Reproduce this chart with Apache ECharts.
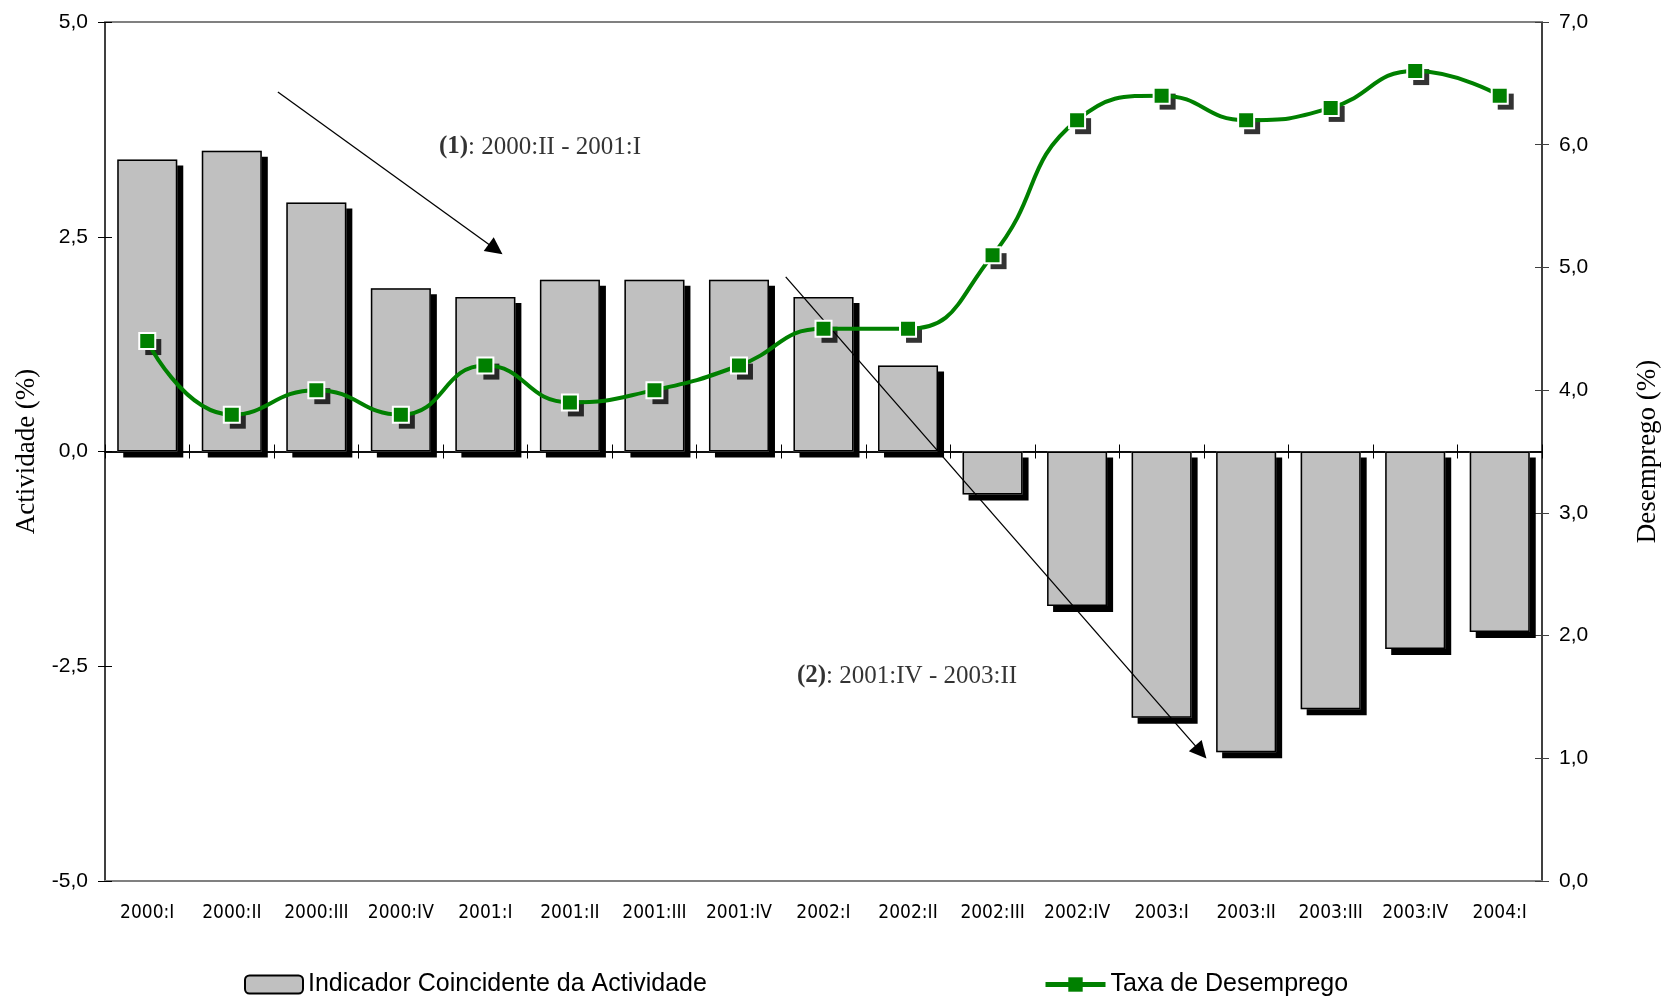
<!DOCTYPE html>
<html>
<head>
<meta charset="utf-8">
<script src="https://cdn.jsdelivr.net/npm/echarts@6/dist/echarts.min.js"></script>
<style>
html,body{margin:0;padding:0;background:#fff;}
#chart{width:1661px;height:996px;}
</style>
</head>
<body>
<div id="chart"></div>
<script>
// ---- data ----
const categories = ['2000:I','2000:II','2000:III','2000:IV','2001:I','2001:II','2001:III','2001:IV','2002:I','2002:II','2002:III','2002:IV','2003:I','2003:II','2003:III','2003:IV','2004:I'];
const activity = [3.4, 3.5, 2.9, 1.9, 1.8, 2.0, 2.0, 2.0, 1.8, 1.0, -0.5, -1.8, -3.1, -3.5, -3.0, -2.3, -2.1];
const unemployment = [4.4, 3.8, 4.0, 3.8, 4.2, 3.9, 4.0, 4.2, 4.5, 4.5, 5.1, 6.2, 6.4, 6.2, 6.3, 6.6, 6.4];
const seriesNames = ['Indicador Coincidente da Actividade', 'Taxa de Desemprego'];
const axisNames = ['Actividade (%)', 'Desemprego (%)'];
const leftTicks = {min: -5, max: 5, interval: 2.5};
const rightTicks = {min: 0, max: 7, interval: 1};
// annotations (category-index, left-axis value)
const annoTags = ['(1)', '(2)'];
const annoRanges = [': 2000:II - 2001:I', ': 2001:IV - 2003:II'];
const annoTextAt = [[4.646, 3.545], [8.988, -2.613]];
const arrowFrom = [[1.545, 4.186], [7.553, 2.033]];
const arrowTo = [[4.121, 2.355], [12.464, -3.499]];

// ---- chart ----
const SANS = "'Liberation Sans', Arial, sans-serif";
const NARROW = "'Liberation Sans Narrow', 'Arial Narrow', 'DejaVu Sans Condensed', sans-serif";
const SERIF = "'Liberation Serif', 'Times New Roman', serif";
const fmt = v => v.toFixed(1).replace('.', ',');

const chart = echarts.init(document.getElementById('chart'));

const catBase = {type: 'category', data: categories, boundaryGap: true, splitLine: {show: false}};
const noShadow = {shadowBlur: 0, shadowOffsetX: 0, shadowOffsetY: 0, shadowColor: 'rgba(0,0,0,0)'};

chart.setOption({
  animation: false,
  backgroundColor: '#fff',
  grid: {left: 105, right: 119, top: 22, bottom: 115, containLabel: false, outerBoundsMode: 'none'},
  legend: [
    {
      data: [seriesNames[0]], left: 244, top: 972, padding: 0,
      itemWidth: 58, itemHeight: 18,
      itemStyle: Object.assign({color: '#c0c0c0', borderColor: '#000', borderWidth: 2}, noShadow),
      textStyle: {fontFamily: SANS, fontSize: 25, color: '#000'}
    },
    {
      data: [seriesNames[1]], left: 1043, top: 972, padding: 0,
      itemWidth: 60, itemHeight: 18,
      itemStyle: Object.assign({color: '#008000', borderWidth: 0}, noShadow),
      lineStyle: {color: '#008000', width: 5},
      textStyle: {fontFamily: SANS, fontSize: 25, color: '#000'}
    }
  ],
  xAxis: [
    Object.assign({}, catBase, {
      position: 'bottom',
      axisLine: {onZero: false, lineStyle: {color: '#808080', width: 2}},
      axisTick: {show: false},
      axisLabel: {margin: 23, fontFamily: NARROW, fontSize: 19, color: '#000', interval: 0}
    }),
    Object.assign({}, catBase, {
      position: 'top',
      axisLine: {onZero: false, lineStyle: {color: '#808080', width: 2}},
      axisTick: {show: false},
      axisLabel: {show: false}
    }),
    Object.assign({}, catBase, {
      position: 'bottom',
      axisLine: {onZero: true, onZeroAxisIndex: 0, lineStyle: {color: '#000', width: 1.5}},
      axisTick: {show: true, length: 7, interval: 0, lineStyle: {color: '#000', width: 1}},
      axisLabel: {show: false}
    }),
    Object.assign({}, catBase, {
      position: 'top',
      axisLine: {onZero: true, onZeroAxisIndex: 0, lineStyle: {color: '#000', width: 1.5}},
      axisTick: {show: true, length: 7, interval: 0, lineStyle: {color: '#000', width: 1}},
      axisLabel: {show: false}
    }),
    {type: 'value', min: -0.5, max: categories.length - 0.5, show: false}
  ],
  yAxis: [
    {
      type: 'value', position: 'left', min: leftTicks.min, max: leftTicks.max, interval: leftTicks.interval,
      axisLine: {show: true, onZero: false, lineStyle: {color: '#000', width: 1.5}},
      axisTick: {show: true, length: 7, lineStyle: {color: '#000', width: 1}},
      axisLabel: {margin: 17, fontFamily: SANS, fontSize: 21, color: '#000', formatter: fmt},
      splitLine: {show: false},
      name: axisNames[0], nameLocation: 'middle', nameGap: 65, nameRotate: 90,
      nameTextStyle: {fontFamily: SERIF, fontSize: 27, color: '#000'}
    },
    {
      type: 'value', position: 'right', min: rightTicks.min, max: rightTicks.max, interval: rightTicks.interval,
      axisLine: {show: true, onZero: false, lineStyle: {color: '#404040', width: 2}},
      axisTick: {show: true, length: 7, lineStyle: {color: '#404040', width: 1}},
      axisLabel: {margin: 17, fontFamily: SANS, fontSize: 21, color: '#000', formatter: fmt},
      splitLine: {show: false},
      name: axisNames[1], nameLocation: 'middle', nameGap: 92, nameRotate: 90,
      nameTextStyle: {fontFamily: SERIF, fontSize: 27, color: '#000'}
    },
    {
      type: 'value', position: 'left', min: leftTicks.min, max: leftTicks.max, interval: leftTicks.interval,
      axisLine: {show: false, onZero: false},
      axisTick: {show: true, inside: true, length: 7, lineStyle: {color: '#000', width: 1}},
      axisLabel: {show: false}, splitLine: {show: false}
    },
    {
      type: 'value', position: 'right', min: rightTicks.min, max: rightTicks.max, interval: rightTicks.interval,
      axisLine: {show: false, onZero: false},
      axisTick: {show: true, inside: true, length: 7, lineStyle: {color: '#404040', width: 1}},
      axisLabel: {show: false}, splitLine: {show: false}
    }
  ],
  series: [
    {
      // bar fill + drop shadow
      name: seriesNames[0], type: 'bar', xAxisIndex: 0, yAxisIndex: 0,
      data: activity, barWidth: '71%', z: 3,
      itemStyle: {color: '#c0c0c0', borderWidth: 0,
        shadowColor: '#000', shadowBlur: 0, shadowOffsetX: 6, shadowOffsetY: 6}
    },
    {
      // bar outline
      name: 'outline', type: 'bar', xAxisIndex: 0, yAxisIndex: 0,
      data: activity, barWidth: '71%', barGap: '-100%', z: 3, silent: true,
      itemStyle: {color: 'rgba(0,0,0,0)', borderColor: '#000', borderWidth: 1.5}
    },
    {
      name: 'annotations', type: 'scatter', xAxisIndex: 4, yAxisIndex: 0, z: 4,
      symbolSize: 0, silent: true,
      data: annoTextAt.map(p => ({value: p})),
      label: {
        show: true, position: 'inside', align: 'center', verticalAlign: 'middle',
        formatter: p => '{b|' + annoTags[p.dataIndex] + '}{n|' + annoRanges[p.dataIndex] + '}',
        rich: {
          b: {fontFamily: SERIF, fontSize: 25, fontWeight: 'bold', color: '#000'},
          n: {fontFamily: SERIF, fontSize: 25, color: '#000'}
        }
      },
      markLine: {
        silent: true, symbol: ['none', 'triangle'], symbolSize: 17,
        lineStyle: {color: '#000', width: 1.3, type: 'solid'},
        label: {show: false},
        emphasis: {disabled: true},
        data: arrowFrom.map((s, i) => [{coord: s}, {coord: arrowTo[i]}])
      }
    },
    {
      // marker drop shadows
      name: 'markerShadow', type: 'scatter', xAxisIndex: 0, yAxisIndex: 1,
      data: unemployment, z: 5, silent: true,
      symbol: 'rect', symbolSize: 16, symbolOffset: [6, 6],
      itemStyle: {color: '#000'}
    },
    {
      name: seriesNames[1], type: 'line', xAxisIndex: 0, yAxisIndex: 1,
      data: unemployment, smooth: true, z: 6,
      symbol: 'rect', symbolSize: 16,
      lineStyle: {color: '#008000', width: 4},
      itemStyle: {color: '#008000', borderColor: '#fff', borderWidth: 2}
    }
  ]
});
</script>
</body>
</html>
